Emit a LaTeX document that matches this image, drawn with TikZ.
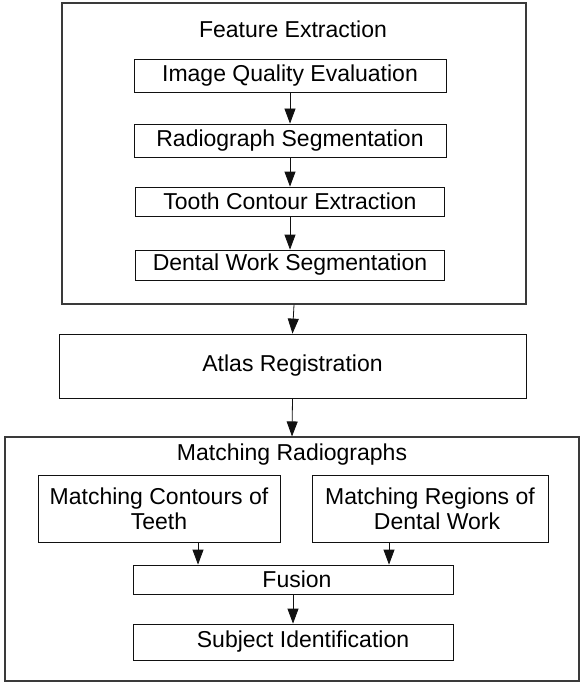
\documentclass[tikz,border=0pt]{standalone}
\usepackage{fontspec}
\setmainfont{Liberation Sans}
\usepackage{tikz}
\usepackage{xcolor}
\usetikzlibrary{arrows.meta,positioning,calc}
\definecolor{ink}    {HTML}{111111}
\definecolor{frame}  {HTML}{3A3A3A}
\tikzset{
  box/.style    ={draw=ink, fill=white, line width=0.8pt,
                  align=center, inner sep=0pt,
                  font=\fontsize{23}{25}\selectfont},
  group/.style  ={draw=frame, line width=1.1pt, inner sep=0pt},
  title/.style  ={font=\fontsize{23}{25}\selectfont, inner sep=0pt},
  arr/.style    ={-{Triangle[length=15pt,width=11pt]}, line width=0.8pt, draw=ink},
}

\begin{document}
\begin{tikzpicture}[x=1pt,y=-1pt]
  \useasboundingbox (0,0) rectangle (581,682);

  % feature extraction
  \node[group,minimum width=464pt,minimum height=301pt] (fe) at (294,153.5) {};
  \node[title] (fet) at (293,29) {Feature Extraction};
  \node[box,minimum width=312pt,minimum height=33pt] (iqe) at (290,76)    {Image Quality Evaluation};
  \node[box,minimum width=312pt,minimum height=33pt] (rs)  at (290,140.5) {Radiograph Segmentation};
  \node[box,minimum width=309pt,minimum height=29pt] (tce) at (290,201.5) {Tooth Contour Extraction};
  \node[box,minimum width=309pt,minimum height=30pt] (dws) at (290,265)   {Dental Work Segmentation};

  \node[box,minimum width=467pt,minimum height=64pt] (atlas) at (292.5,366) {Atlas Registration};

  % matching
  \node[group,minimum width=574pt,minimum height=244pt] (match) at (292,559) {};
  \node[title] (mt) at (292,455) {Matching Radiographs};
  \node[box,minimum width=242pt,minimum height=67pt] (mct) at (159,508.5)
    {Matching Contours of\\Teeth};
  \node[box,minimum width=236pt,minimum height=67pt] (mrd) at (430,508.5)
    {Matching Regions of\\\hspace*{14pt}Dental Work};
  \node[box,minimum width=320pt,minimum height=29pt] (fus) at (293,579.5)
    {\hspace*{8pt}Fusion};
  \node[box,minimum width=320pt,minimum height=36pt] (sid) at (293,642)
    {\hspace*{20pt}Subject Identification};

  \draw[arr] (iqe) -- (rs);
  \draw[arr] (rs) -- (tce);
  \draw[arr] (tce) -- (dws);
  \draw[arr] (fe.south) -- (atlas.north);
  \draw[arr] (atlas.south) -- (match.north);
  \draw[arr] (mct.south) ++(39pt,0) coordinate (m1) -- (m1 |- fus.north);
  \draw[arr] (mrd.south) ++(-41pt,0) coordinate (m2) -- (m2 |- fus.north);
  \draw[arr] (fus) -- (sid);
\end{tikzpicture}
\end{document}
